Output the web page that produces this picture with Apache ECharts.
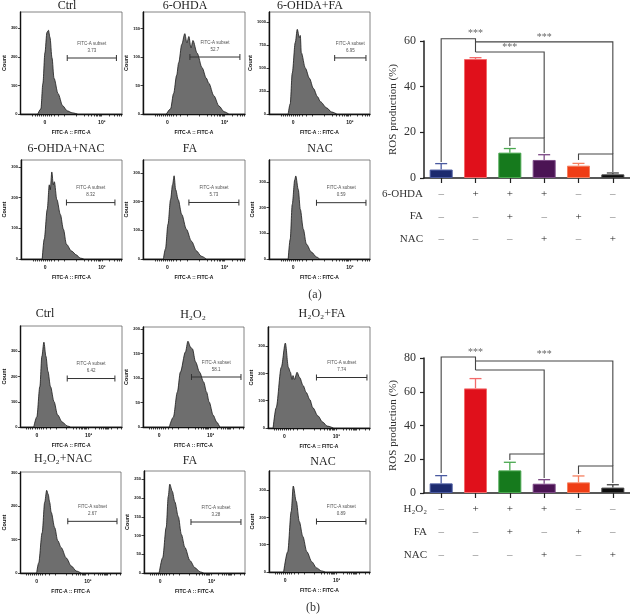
<!DOCTYPE html>
<html><head><meta charset="utf-8">
<script src="https://cdn.jsdelivr.net/npm/echarts@6/dist/echarts.min.js"></script>
<style>html,body{margin:0;padding:0;background:#fff}#c{width:630px;height:614px}</style>
</head><body><div id="c"></div><script>
// ---------- flow cytometry histograms (x: % of display width, y: count) ----------
const aCtrlX = [17,20,22,24,26,27.5,29,31,33,37,41.5,46,51,56];
const aCtrlCount = [0,18,107,214,286,293,268,196,125,71,29,11,4,0];
const aOhdaX = [23,27,30,33,35,38,41,43,45,47,49,53,58,62,64.5,69.5,74.5,79.5,84];
const aOhdaCount = [0,9,36,68,90,122,141,125,136,116,129,107,81,63,54,32,14,4,0];
const aOhdaFaX = [19,21,23,26,28,30,31,32,36,40,44,48,51,57,62,67];
const aOhdaFaCount = [0,111,444,778,922,833,855,667,500,389,278,189,133,67,22,0];
const aOhdaNacX = [21,23,26,28,29,30.5,32,33,35.5,39,42,45,50,55,58.5,62];
const aOhdaNacCount = [0,65,162,242,226,284,242,252,194,145,97,48,26,13,3,0];
const aFaX = [20,22,24.5,27,29,30.5,32,34.5,38,42.5,47.5,52.5,57,62];
const aFaCount = [0,35,121,207,259,290,242,207,155,104,62,28,10,0];
const aNacX = [19,21,23,25.5,26.5,29,31,34,37,42,47,50];
const aNacCount = [0,77,212,308,323,270,193,116,58,27,8,0];

const bCtrlX = [13,16,19,21,23,25,27,29.5,33,36.5,41,46,49];
const bCtrlCount = [0,40,160,280,336,280,220,160,100,48,20,4,0];
const bH2o2X = [26,30,34,37,42,44.5,47,49,52,56,60,63,65.5,69.5,73,76];
const bH2o2Count = [0,20,71,112,153,175,163,159,133,112,92,71,51,24,10,0];
const bH2o2FaX = [5,8,13,17,20,22,23.5,24.5,26,28.5,31,34.5,37.5,41,44,49,53.5,58,64];
const bH2o2FaCount = [0,74,222,311,222,204,178,192,178,204,185,155,130,104,74,44,22,7,0];
const bH2o2NacX = [16,18,21.5,24,26,27.5,29,30.5,34,37,40.5,45.5,50.5,55.5,60];
const bH2o2NacCount = [0,30,121,212,248,236,212,182,136,97,76,45,21,6,0];
const bFaX = [15,18.5,22,24,25.5,28,30.5,34,37,40.5,45.5,50.5,55.5,59];
const bFaCount = [0,41,122,204,237,218,190,150,103,68,33,14,3,0];
const bNacX = [14.5,18.5,22,24,27,30,33.5,37.5,42.5,47,52,55.5];
const bNacCount = [0,74,222,315,259,185,130,74,37,15,4,0];

const histTitles = ['Ctrl','6-OHDA','6-OHDA+FA','6-OHDA+NAC','FA','NAC',
                    'Ctrl','H₂O₂','H₂O₂+FA','H₂O₂+NAC','FA','NAC'];
const subsetValues = ['3.73','52.7','6.95','8.32','5.73','0.59',
                      '6.42','58.1','7.74','2.67','3.28','0.89'];
const yAxisMax = [357,179,1111,323,345,385, 400,204,370,303,272,370];
const yTickLabels = [[0,100,200,300],[0,50,100,150],[0,250,500,750,1000],[0,100,200,300],[0,100,200,300],[0,100,200,300],
                     [0,100,200,300],[0,50,100,150,200],[0,100,200,300],[0,100,200,300],[0,50,100,150,200,250],[0,100,200,300]];
const gateStart = [46,46,65,45,45,47, 46,48,47.5,47,46.5,47];
const gateEnd   = [94.5,95,96,93,94,96, 93,97,97,96,96,96];
const gateLevel = [196,100,611,184,197,219, 192,102,185,155,136,185];
const xTicksA = [12,14,16,18,20,22,24,26,28,30,33,37,43,55,62.5,67,70,72.5,74.5,76,77.6,78.9,80,87.5,92,95,97.5,99.4];
const xTicksB = [6,8,10,12,14,16,18,20,22,25,29,35,45,51.6,55.1,57.6,59.6,61.2,62.5,63.7,64.8,67,73.6,77.1,79.6,81.6,83.2,84.5,85.7,86.8,89,95.6,99.1];
const xLabelPosA = [24,80];
const xLabelPosB = [16,67];
const xLabelText = ['0','10³'];

// ---------- ROS bar charts ----------
const barCategories = ['Ctrl','6-OHDA','6-OHDA+FA','6-OHDA+NAC','FA','NAC'];
const rosMeanA = [3.7,52.1,11.1,7.9,5.4,1.6];
const rosSemA  = [2.6,0.6,1.8,2.3,1.0,0.6];
const rosMeanB = [5.7,62.0,13.4,5.5,6.3,3.2];
const rosSemB  = [4.6,5.8,4.8,2.4,3.8,1.7];
const rosTicksA = [0,20,40,60];
const rosTicksB = [0,20,40,60,80];
const toxinRow = ['–','+','+','+','–','–'];
const faRow    = ['–','–','+','–','+','–'];
const nacRow   = ['–','–','–','+','–','+'];
const rowNamesA = ['6-OHDA','FA','NAC'];
const rowNamesB = ['H₂O₂','FA','NAC'];
const bracketsA = [
  [[0,7],[0,61],[1,61],[1,55.2]],
  [[1,55.2],[2.5,55.2],[2.5,17.5]],
  [[2,14],[2,17.5],[3,17.5],[3,11]],
  [[1,59.6],[4.5,59.6],[4.5,10.5]],
  [[4,7.9],[4,10.5],[5,10.5],[5,2.6]]
];
const starsA = [[0.5,63.5],[1.5,57.4],[2.65,61.8]];
const bracketsB = [
  [[0,11.9],[0,80.6],[1,80.6],[1,72.9]],
  [[1,72.9],[2.5,72.9],[2.5,23.1]],
  [[2,19.6],[2,23.1],[3,23.1],[3,8.9]],
  [[1,78.2],[4.5,78.2],[4.5,16.0]],
  [[4,11.3],[4,16],[5,16],[5,5.9]]
];
const starsB = [[0.5,83.6],[2.6,82.4]];

// ---------- styling / layout ----------
const histX = [aCtrlX,aOhdaX,aOhdaFaX,aOhdaNacX,aFaX,aNacX,bCtrlX,bH2o2X,bH2o2FaX,bH2o2NacX,bFaX,bNacX];
const histC = [aCtrlCount,aOhdaCount,aOhdaFaCount,aOhdaNacCount,aFaCount,aNacCount,bCtrlCount,bH2o2Count,bH2o2FaCount,bH2o2NacCount,bFaCount,bNacCount];
const layout = [
 {l:19,t:12,w:103,h:102, tx:67, ty:6},
 {l:143,t:12,w:102,h:102, tx:185, ty:6},
 {l:269,t:12,w:101,h:102, tx:310, ty:6},
 {l:21,t:160,w:101,h:99, tx:66, ty:149},
 {l:143,t:160,w:102,h:99, tx:190, ty:149},
 {l:269,t:160,w:101,h:99, tx:320, ty:149},
 {l:20,t:326,w:102,h:101, tx:45, ty:314},
 {l:143,t:327,w:101,h:100, tx:193, ty:315},
 {l:268,t:327,w:102,h:101, tx:322, ty:314},
 {l:19,t:472,w:102,h:101, tx:63, ty:459},
 {l:144,t:471,w:101,h:102, tx:190, ty:461},
 {l:269,t:471,w:101,h:101, tx:323, ty:462}
];
const barColors  = ['#1c2a6e','#e0101b','#167a1d','#4b1454','#ef3d15','#0d0d0d'];
const barBorders = ['#4a5aa0','#f26a6a','#4aa84f','#7d4a86','#f58060','#444444'];
const SERIF = '"Liberation Serif", "DejaVu Serif", serif';
const SANS = '"Liberation Sans", Arial, sans-serif';

const grids = [], xAxes = [], yAxes = [], series = [], graphics = [];

for (let i = 0; i < 12; i++) {
  const L = layout[i];
  const isA = i < 6;
  const xl = isA ? xLabelPosA : xLabelPosB;
  grids.push({left:L.l, top:L.t, width:L.w, height:L.h, show:true, borderColor:'#666', borderWidth:0.8});
  xAxes.push({gridIndex:i, type:'value', min:0, max:100,
    axisLine:{show:true, onZero:false, lineStyle:{color:'#111', width:1.4}},
    axisTick:{show:true, length:2.5, customValues: isA ? xTicksA : xTicksB, lineStyle:{color:'#111', width:0.8}},
    axisLabel:{customValues: xl, formatter:(v)=>{const k = xl.indexOf(v); return k>=0 ? xLabelText[k] : '';},
      fontSize:5, fontWeight:'bold', color:'#111', fontFamily:SANS, margin:6},
    splitLine:{show:false},
    name:'FITC-A :: FITC-A', nameLocation:'middle', nameGap:16,
    nameTextStyle:{fontSize:5, fontWeight:'bold', color:'#111', fontFamily:SANS}});
  yAxes.push({gridIndex:i, type:'value', min:0, max:yAxisMax[i],
    axisLine:{show:true, lineStyle:{color:'#111', width:1.4}},
    axisTick:{show:true, length:2.5, customValues:yTickLabels[i], lineStyle:{color:'#111', width:0.8}},
    axisLabel:{customValues:yTickLabels[i], formatter:(v)=>String(v), fontSize:4, fontWeight:'bold', color:'#111', fontFamily:SANS, margin:3},
    splitLine:{show:false},
    name:'Count', nameLocation:'middle', nameGap:6,
    nameTextStyle:{fontSize:5.5, fontWeight:'bold', color:'#111', fontFamily:SANS}});
  series.push({type:'line', xAxisIndex:i, yAxisIndex:i, data: histX[i].map((x,k)=>[x, histC[i][k]]),
    smooth:0.3, smoothMonotone:'x', symbol:'none', silent:true,
    lineStyle:{color:'#1a1a1a', width:0.8}, areaStyle:{color:'#6e6e6e', opacity:1}});
  series.push({type:'line', xAxisIndex:i, yAxisIndex:i,
    data:[[gateStart[i], gateLevel[i]],[gateEnd[i], gateLevel[i]]],
    symbol:'rect', symbolSize:[1,6], showSymbol:true, silent:true,
    lineStyle:{color:'#333', width:1}, itemStyle:{color:'#333'}});
  series.push({type:'scatter', xAxisIndex:i, yAxisIndex:i,
    data:[[(gateStart[i]+gateEnd[i])/2, gateLevel[i]]], symbolSize:0, silent:true,
    label:{show:true, position:'top', distance:4, formatter:'FITC-A subset\n' + subsetValues[i],
      fontSize:4.5, lineHeight:7, color:'#222', fontFamily:SANS}});
  graphics.push({type:'text', x:L.tx, y:L.ty, style:{text:histTitles[i], font:'12px ' + SERIF, fill:'#222', align:'center', verticalAlign:'middle'}});
}

function barPanel(gi, mean, sem, ticks, rowNames, brackets, stars, top, height, lineH) {
  grids.push({left:424, top:top, width:206, height:height});
  xAxes.push({gridIndex:gi, type:'category', data:barCategories,
    axisLine:{show:true, lineStyle:{color:'#222', width:1.5}},
    axisTick:{show:true, alignWithLabel:true, length:5, lineStyle:{color:'#222', width:1.2}},
    axisLabel:{interval:0, margin:5, formatter:(v, idx)=>[toxinRow[idx], faRow[idx], nacRow[idx]].map(s=> s==='+' ? '{p|+}' : '{m|–}').join('\n'),
      rich:{p:{fontSize:11, lineHeight:lineH, color:'#222', fontFamily:SERIF}, m:{fontSize:11, lineHeight:lineH, color:'#777', fontFamily:SERIF}}}});
  yAxes.push({gridIndex:gi, type:'value', min:0, max:ticks[ticks.length-1], interval:20,
    axisLine:{show:true, lineStyle:{color:'#222', width:1.5}},
    axisTick:{show:true, length:4, lineStyle:{color:'#222', width:1.2}},
    axisLabel:{fontSize:12, color:'#333', fontFamily:SERIF, margin:8},
    splitLine:{show:false},
    name:'ROS production (%)', nameLocation:'middle', nameGap:25,
    nameTextStyle:{fontSize:11, color:'#333', fontFamily:SERIF}});
  series.push({type:'bar', xAxisIndex:gi, yAxisIndex:gi, barWidth:'67%',
    data: mean.map((v,k)=>({value:v, itemStyle:{color:barColors[k], borderColor:barBorders[k], borderWidth:1}}))});
  series.push({type:'custom', xAxisIndex:gi, yAxisIndex:gi, z:5,
    data: mean.map((v,k)=>[k, v, v + sem[k]]),
    encode:{x:0, y:[1,2]},
    renderItem:(params, api)=>{
      const k = api.value(0);
      const b = api.coord([k, api.value(1)]);
      const t = api.coord([k, api.value(2)]);
      const c = barBorders[params.dataIndex];
      return {type:'group', children:[
        {type:'line', shape:{x1:b[0], y1:b[1], x2:t[0], y2:t[1]}, style:{stroke:c, lineWidth:1.3}},
        {type:'line', shape:{x1:t[0]-6, y1:t[1], x2:t[0]+6, y2:t[1]}, style:{stroke:c, lineWidth:1.3}}]};
    }});
  series.push({type:'custom', xAxisIndex:gi, yAxisIndex:gi, z:6, clip:false,
    data: brackets.map((b,k)=>[k, 0]),
    renderItem:(params, api)=>({type:'polyline',
      shape:{points: brackets[params.dataIndex].map(p=>api.coord(p))},
      style:{stroke:'#444', lineWidth:1.1, fill:null}})});
  series.push({type:'custom', xAxisIndex:gi, yAxisIndex:gi, z:6, clip:false,
    data: stars,
    renderItem:(params, api)=>{
      const p = api.coord([api.value(0), api.value(1)]);
      return {type:'text', x:p[0], y:p[1], style:{text:'***', fill:'#666', fontSize:10, fontFamily:SERIF, align:'center', verticalAlign:'middle'}};
    }});
  const base = top + height;
  rowNames.forEach((n, r)=>{
    graphics.push({type:'text', x: gi===12 ? 423 : 427, y: base + 16 + r*lineH,
      style:{text:n, font:'11px ' + SERIF, fill:'#333', align:'right', verticalAlign:'middle'}});
  });
}
barPanel(12, rosMeanA, rosSemA, rosTicksA, rowNamesA, bracketsA, starsA, 41, 137, 22.5);
barPanel(13, rosMeanB, rosSemB, rosTicksB, rowNamesB, bracketsB, starsB, 358, 135, 23);

graphics.push({type:'text', x:315, y:295, style:{text:'(a)', font:'12px ' + SERIF, fill:'#333', align:'center', verticalAlign:'middle'}});
graphics.push({type:'text', x:313, y:608, style:{text:'(b)', font:'12px ' + SERIF, fill:'#333', align:'center', verticalAlign:'middle'}});

const chart = echarts.init(document.getElementById('c'), null, {renderer:'canvas'});
chart.setOption({animation:false, backgroundColor:'#fff', grid:grids, xAxis:xAxes, yAxis:yAxes, series:series, graphic:graphics});
</script></body></html>
